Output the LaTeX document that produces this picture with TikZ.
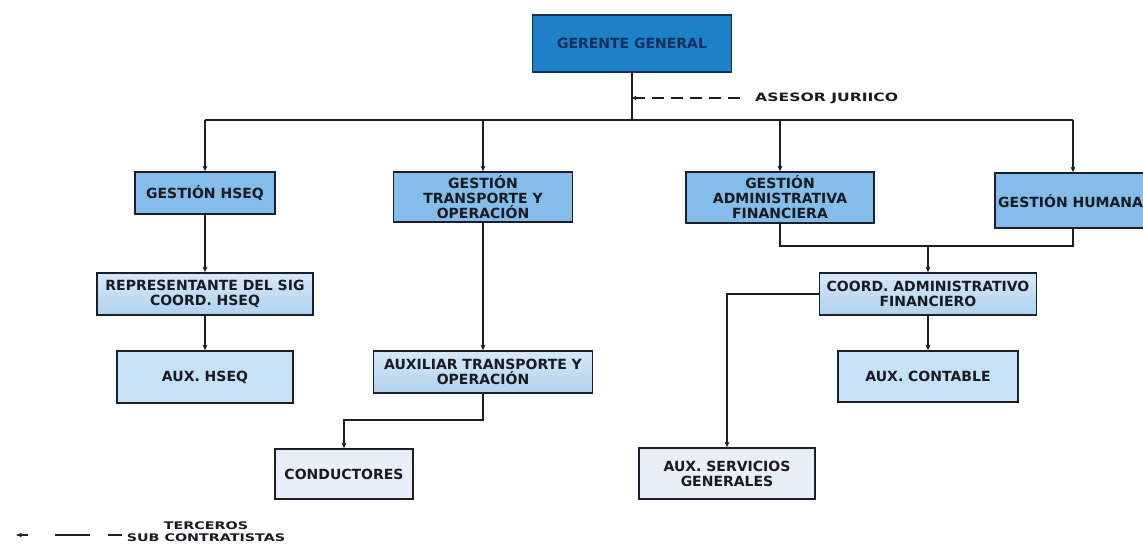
\documentclass[tikz,border=0pt]{standalone}
\usepackage{fontspec}
\setmainfont{DejaVu Sans}
\usetikzlibrary{arrows.meta}

\definecolor{linec}{HTML}{1E1E24}
\definecolor{boxline}{HTML}{1C1F2A}
\definecolor{txt}{HTML}{1A1A22}
\definecolor{gerfill}{HTML}{1E80C8}
\definecolor{gertxt}{HTML}{14305A}
\definecolor{blueA}{HTML}{84BDE9}
\definecolor{blueBtop}{HTML}{D6E8F7}
\definecolor{blueBbot}{HTML}{B0D3EF}
\definecolor{blueC}{HTML}{C6E2F6}
\definecolor{greyD}{HTML}{E9EFF6}

\newcommand{\boxfont}{\fontsize{14}{15}\selectfont\bfseries}
\newcommand{\smallwide}[1]{\scalebox{1.36}[1]{#1}}

\begin{document}
\begin{tikzpicture}[x=1pt,y=-1pt,
  box/.style={draw=boxline, line width=1.8pt, align=center, inner sep=0pt,
              font=\boxfont, text=txt},
  lvlA/.style={box, fill=blueA},
  lvlB/.style={box, top color=blueBtop, bottom color=blueBbot},
  lvlC/.style={box, fill=blueC},
  lvlD/.style={box, fill=greyD},
  link/.style={draw=linec, line width=1.7pt},
  arr/.style={link, -{Stealth[length=5.5pt,width=5pt]}},
  note/.style={font=\fontsize{10.5}{12}\selectfont\bfseries, text=txt, align=center, inner sep=0pt}]

% canvas
\fill[white] (0,0) rectangle (1143,545);
\useasboundingbox (0,0) rectangle (1143,545);

% top
\node[box, fill=gerfill, draw=gertxt, text=gertxt, minimum width=199pt, minimum height=57pt] (ger) at (632,43.5) {GERENTE GENERAL};

% first level
\node[lvlA, minimum width=140pt, minimum height=42pt] (hseq) at (205,193) {GESTIÓN HSEQ};
\node[lvlA, minimum width=179pt, minimum height=50pt] (trans) at (483,197) {GESTIÓN\\TRANSPORTE Y\\OPERACIÓN};
\node[lvlA, minimum width=188pt, minimum height=51pt] (adm) at (780,197.5) {GESTIÓN\\ADMINISTRATIVA\\FINANCIERA};
\node[lvlA, minimum width=156pt, minimum height=55pt] (hum) at (1073,200.5) {};
\node[font=\boxfont, text=txt, anchor=west, inner sep=0pt] (humtxt) at (998,201) {GESTIÓN HUMANA};

% second level
\node[lvlB, minimum width=216pt, minimum height=42pt] (rep) at (205,294) {REPRESENTANTE DEL SIG\\COORD. HSEQ};
\node[lvlB, minimum width=219pt, minimum height=42pt] (auxt) at (483,372) {AUXILIAR TRANSPORTE Y\\OPERACIÓN};
\node[lvlB, minimum width=217pt, minimum height=42pt] (coord) at (928,294) {COORD. ADMINISTRATIVO\\FINANCIERO};

% third level
\node[lvlC, minimum width=176pt, minimum height=52pt] (auxh) at (205,377) {AUX. HSEQ};
\node[lvlC, minimum width=180pt, minimum height=51pt] (auxc) at (928,376.5) {AUX. CONTABLE};
\node[lvlD, minimum width=138pt, minimum height=50pt] (cond) at (344,474) {CONDUCTORES};
\node[lvlD, minimum width=176pt, minimum height=51pt] (serv) at (727,473.5) {AUX. SERVICIOS\\GENERALES};

% advisory and legend labels
\node[note, anchor=west, font=\fontsize{11.5}{12}\selectfont\bfseries] (ases) at (755,98) {\smallwide{ASESOR JURIICO}};
\node[note] (legend) at (206,532) {\smallwide{TERCEROS}\\\smallwide{SUB CONTRATISTAS}};

% helper points
\coordinate (bus) at (632,120);
\coordinate (join) at (928,246);
\coordinate (drop) at (483,420);
\coordinate (legtip) at (16,535);

% trunk and bus
\draw[link] (ger.south) -- (ger.south |- bus);
\draw[link] (hseq.north |- bus) -- (hum.north |- bus);
\draw[arr] (hseq.north |- bus) -- (hseq.north);
\draw[arr] (trans.north |- bus) -- (trans.north);
\draw[arr] (adm.north |- bus) -- (adm.north);
\draw[arr] (hum.north |- bus) -- (hum.north);

% advisory link
\draw[link, line width=1.3pt, dash pattern=on 12pt off 7pt, -{Stealth[length=4.5pt,width=4.5pt]}]
  ([xshift=-15pt]ases.west) -- (ger.south |- ases.west);

% HSEQ branch
\draw[arr] (hseq.south) -- (rep.north);
\draw[arr] (rep.south) -- (auxh.north);

% transport branch
\draw[arr] (trans.south) -- (auxt.north);
\draw[arr] (auxt.south) -- (drop) -| (cond.north);

% administration branch
\draw[link] (adm.south) -- (adm.south |- join) -| (hum.south);
\draw[arr] (join) -- (coord.north);
\draw[arr] (coord.south) -- (auxc.north);
\draw[arr] (coord.west) -| (serv.north);

% legend link
\draw[link, line width=1.3pt, dash pattern=on 14pt off 18pt on 35pt off 27pt, -{Stealth[length=6pt,width=4.5pt]}]
  (122,535) -- (legtip);
\end{tikzpicture}
\end{document}
